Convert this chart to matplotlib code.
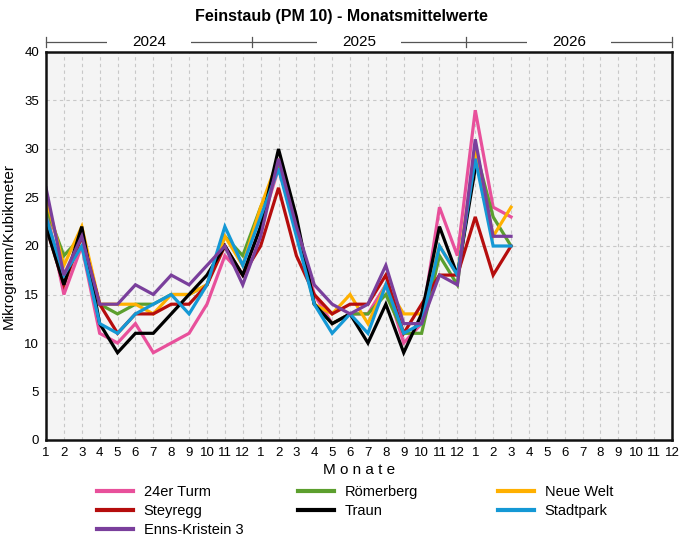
import matplotlib
matplotlib.use("Agg")
import matplotlib.pyplot as plt
import matplotlib.transforms as mtransforms
import numpy as np

# ---------------- data ----------------
month_labels = [str(m) for m in range(1, 13)] * 3
years = ["2024", "2025", "2026"]

series_names = ["24er Turm", "Römerberg", "Neue Welt", "Steyregg", "Traun", "Stadtpark", "Enns-Kristein 3"]
series_colors = ["#e8509b", "#5c9f2e", "#ffb000", "#b50d0d", "#000000", "#1498d5", "#7a3f9c"]

turm24 = [24, 15, 20, 11, 10, 12, 9, 10, 11, 14, 19, 17,
          22, 28, 22, 15, 12, 13, 13, 16, 10, 12, 24, 19,
          34, 24, 23]
roemerberg = [24, 19, 21, 14, 13, 14, 14, 15, 15, 16, 21, 19,
              24, 28, 22, 14, 12, 13, 13, 15, 11, 11, 19, 16,
              30, 23, 20]
neue_welt = [25, 18, 22, 14, 14, 14, 13, 15, 15, 16, 21, 18,
             24, 29, 22, 14, 13, 15, 12, 16, 13, 13, 20, 17,
             30, 21, 24]
steyregg = [22, 16, 21, 14, 11, 13, 13, 14, 14, 16, 20, 17,
            20, 26, 19, 15, 13, 14, 14, 17, 11, 14, 17, 17,
            23, 17, 20]
traun = [22, 16, 22, 12, 9, 11, 11, 13, 15, 17, 20, 17,
         22, 30, 23, 14, 12, 13, 10, 14, 9, 13, 22, 17,
         28]
stadtpark = [23, 17, 20, 12, 11, 13, 14, 15, 13, 16, 22, 18,
             23, 28, 21, 14, 11, 13, 11, 16, 11, 12, 20, 17,
             29, 20, 20]
enns = [26, 17, 21, 14, 14, 16, 15, 17, 16, 18, 20, 16,
        21, 29, 22, 16, 14, 13, 14, 18, 12, 12, 17, 16,
        31, 21, 21]

series_values = [turm24, roemerberg, neue_welt, steyregg, traun, stadtpark, enns]

# ---------------- figure ----------------
plt.rcParams['font.family'] = ['Liberation Sans Narrow', 'Liberation Sans', 'DejaVu Sans']

fig = plt.figure(figsize=(6.82, 5.39), dpi=100)
ax = fig.add_axes([46/682, 1 - 440/539, 626/682, 388/539])
ax.set_facecolor("#f4f4f4")

handles = []
for name, col, vals in zip(series_names, series_colors, series_values):
    x = np.arange(len(vals))
    h, = ax.plot(x, vals, color=col, lw=2.3, label=name, solid_joinstyle='miter')
    handles.append(h)

ax.set_xlim(0, len(month_labels) - 1)
ax.set_ylim(0, 40)
ax.set_xticks(np.arange(len(month_labels)))
ax.set_xticklabels(month_labels)
ax.set_yticks(np.arange(0, 41, 5))
ax.tick_params(axis='both', length=0, labelsize=9.5, pad=5)
ax.grid(True, color="#c8c8c8", linestyle=(0, (3, 3)), linewidth=0.8)
for s in ax.spines.values():
    s.set_linewidth(1.8)
    s.set_color("#111111")

ax.set_xlabel("M o n a t e", fontsize=11, labelpad=3)
ax.set_ylabel("Mikrogramm/Kubikmeter", fontsize=11, labelpad=6,
              family=['Liberation Sans', 'DejaVu Sans'])
fig.text(0.5, 1 - 17/539, "Feinstaub (PM 10) - Monatsmittelwerte", ha='center', va='center',
         fontsize=11.5, fontweight='bold', family=['Liberation Sans', 'DejaVu Sans'])

# top year axis
trans = mtransforms.blended_transform_factory(ax.transData, ax.transAxes)
ytop = 1 + 10/388
n = len(month_labels)
ax.plot([0, n - 1], [ytop, ytop], color="#555555", lw=0.9, transform=trans, clip_on=False)
bounds = [0, 11.5, 23.5, n - 1]
for b in bounds:
    ax.plot([b, b], [ytop - 5/388, ytop + 5/388], color="#555555", lw=0.9, transform=trans, clip_on=False)
for i, yr in enumerate(years):
    xc = (bounds[i] + bounds[i + 1]) / 2
    ax.add_patch(plt.Rectangle((xc - 2.35, ytop - 3/388), 4.7, 6/388, transform=trans,
                               facecolor='white', edgecolor='none', clip_on=False, zorder=2))
    ax.text(xc, ytop, yr, transform=trans, ha='center', va='center', fontsize=11,
            clip_on=False, zorder=3)

# legend: three columns placed individually
columns = [[0, 3, 6], [1, 4], [2, 5]]
col_x = [97, 298, 498]
for idxs, cx in zip(columns, col_x):
    leg = fig.legend([handles[i] for i in idxs], [series_names[i] for i in idxs],
                     loc='upper left', bbox_to_anchor=(cx/682, 1 - 485/539), ncol=1,
                     frameon=False, fontsize=10.5, handlelength=2.5, handletextpad=0.7,
                     labelspacing=0.35, borderpad=0, borderaxespad=0)
    for h in leg.get_lines():
        h.set_linewidth(3)

fig.savefig("out.png", dpi=100)
